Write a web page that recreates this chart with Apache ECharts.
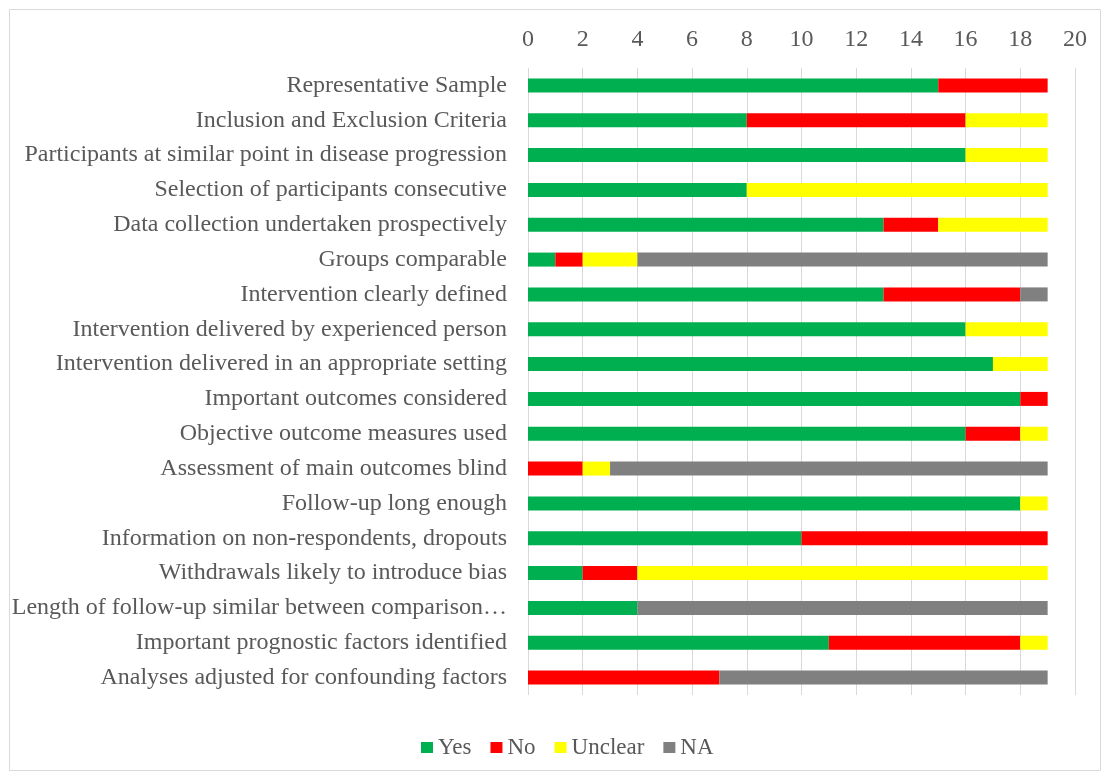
<!DOCTYPE html>
<html><head><meta charset="utf-8">
<script src="https://cdn.jsdelivr.net/npm/echarts@6/dist/echarts.min.js"></script>
<style>html,body{margin:0;padding:0;background:#fff}#c{width:1110px;height:778px}</style>
</head><body><div id="c"></div>
<script>
const categories = [
  "Representative Sample",
  "Inclusion and Exclusion Criteria",
  "Participants at similar point in disease progression",
  "Selection of participants consecutive",
  "Data collection undertaken prospectively",
  "Groups comparable",
  "Intervention clearly defined",
  "Intervention delivered by experienced person",
  "Intervention delivered in an appropriate setting",
  "Important outcomes considered",
  "Objective outcome measures used",
  "Assessment of main outcomes blind",
  "Follow-up long enough",
  "Information on non-respondents, dropouts",
  "Withdrawals likely to introduce bias",
  "Length of follow-up similar between comparison groups",
  "Important prognostic factors identified",
  "Analyses adjusted for confounding factors"
];
const yes     = [15, 8, 16, 8, 13, 1, 13, 16, 17, 18, 16, 0, 18, 10, 2, 4, 11, 0];
const no      = [4, 8, 0, 0, 2, 1, 5, 0, 0, 1, 2, 2, 0, 9, 2, 0, 7, 7];
const unclear = [0, 3, 3, 11, 4, 2, 0, 3, 2, 0, 1, 1, 1, 0, 15, 0, 1, 0];
const na      = [0, 0, 0, 0, 0, 15, 1, 0, 0, 0, 0, 16, 0, 0, 0, 15, 0, 12];
const seriesNames = ["Yes", "No", "Unclear", "NA"];
const colors = ["#00B050", "#FF0000", "#FFFF00", "#808080"];

const font = "'Liberation Serif', 'Times New Roman', serif";
const chart = echarts.init(document.getElementById('c'));
const data = [yes, no, unclear, na];
chart.setOption({
  animation: false,
  textStyle: { fontFamily: font },
  graphic: [{ type: 'rect', shape: { x: 9.5, y: 9.5, width: 1091, height: 761 },
    style: { fill: 'none', stroke: '#D9D9D9', lineWidth: 1 }, silent: true }],
  grid: { left: 528, right: 35, top: 68, bottom: 83, containLabel: false },
  legend: {
    top: 731, left: 416, itemWidth: 12, itemHeight: 11, itemGap: 19,
    icon: 'rect',
    textStyle: { fontFamily: font, fontSize: 23, color: '#595959' },
    data: seriesNames
  },
  xAxis: {
    type: 'value', position: 'top', min: 0, max: 20, interval: 2,
    axisLine: { show: false }, axisTick: { show: false },
    axisLabel: { fontFamily: font, fontSize: 24, color: '#595959', margin: 16 },
    splitLine: { lineStyle: { color: '#D9D9D9', width: 1 } }
  },
  yAxis: {
    type: 'category', inverse: true, data: categories,
    axisLine: { show: false }, axisTick: { show: false },
    axisLabel: { fontFamily: font, fontSize: 24, color: '#595959', margin: 21,
      width: 498, overflow: 'truncate', ellipsis: '…' }
  },
  series: seriesNames.map((n, i) => ({
    name: n, type: 'bar', stack: 'all', data: data[i], barWidth: 14,
    itemStyle: { color: colors[i] }
  }))
});
</script></body></html>
